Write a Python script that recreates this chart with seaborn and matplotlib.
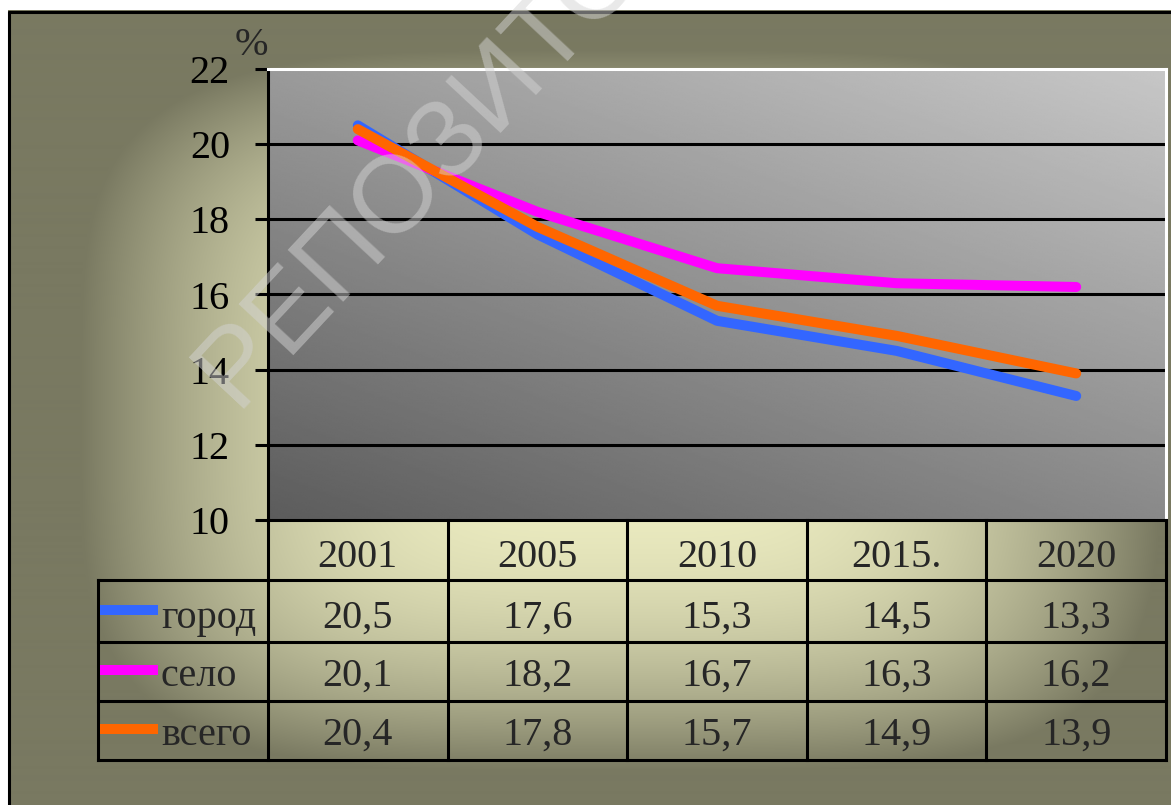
import numpy as np
import pandas as pd
import matplotlib
matplotlib.use('Agg')
import matplotlib.pyplot as plt
import seaborn as sns

# ============================================================
# DATA
# ============================================================

years = ['2001', '2005', '2010', '2015.', '2020']
gorod = [20.5, 17.6, 15.3, 14.5, 13.3]
selo = [20.1, 18.2, 16.7, 16.3, 16.2]
vsego = [20.4, 17.8, 15.7, 14.9, 13.9]
series_names = ['город', 'село', 'всего']
series_colors = ['#3366ff', '#ff00ff', '#ff6600']
y_ticks = [10, 12, 14, 16, 18, 20, 22]
watermark = 'РЕПОЗИТОРИЙ'

W, H = 1171, 805

sns.set_style('white')
plt.rcParams['font.family'] = ['Liberation Serif', 'DejaVu Serif']

fig = plt.figure(figsize=(W / 100, H / 100), dpi=100, facecolor='white')

# ============================================================
# CHART AREA BACKGROUND (olive "from center" gradient)
# ============================================================

bg = fig.add_axes([0, 0, 1, 1])
bg.set_axis_off()
yy, xx = np.mgrid[0:H, 0:W]
m = (np.abs((xx - 620) / 540) ** 4 + np.abs((yy - 410) / 360) ** 4) ** 0.25
f = 1 - np.clip(m, 0, 1) ** 2.5
dark = np.array([121, 121, 97]) / 255
light = np.array([240, 240, 196]) / 255
img = dark + f[..., None] * (light - dark)
img[:11, :, :] = 1
img[:, :8, :] = 1
bg.imshow(img, extent=(0, W, H, 0), aspect='auto', interpolation='bilinear')
bg.set_xlim(0, W)
bg.set_ylim(H, 0)
bg.plot([9, 9], [12, H], color='black', lw=2.2)
bg.plot([9, W], [12, 12], color='black', lw=2.2)

# ============================================================
# PLOT AREA
# ============================================================

ax = fig.add_axes([268 / W, 1 - 520 / H, (1166 - 268) / W, (520 - 69) / H])
ax.patch.set_alpha(0)

u = np.linspace(0, 1, 300)
w = np.linspace(1, 0, 300)
grad = 92 + 45 * u[None, :] + 62 * w[:, None]
ax.imshow(grad, cmap='gray', vmin=0, vmax=255, extent=(-0.5, 4.5, 10, 22),
          aspect='auto', zorder=-1, interpolation='bilinear')

for v in y_ticks[1:-1]:
    ax.axhline(v, color='black', lw=2.2, zorder=1)

df = pd.DataFrame({
    'pos': np.tile(np.arange(len(years)), len(series_names)),
    'value': gorod + selo + vsego,
    'series': np.repeat(series_names, len(years)),
})
sns.lineplot(data=df, x='pos', y='value', hue='series', hue_order=series_names,
             palette=series_colors, linewidth=7.2, legend=False, ax=ax,
             solid_capstyle='round', solid_joinstyle='round', zorder=3)

ax.set_xlim(-0.5, 4.5)
ax.set_ylim(10, 22)
ax.set_yticks(y_ticks)
ax.set_xticks([])
ax.set_xlabel('')
ax.set_ylabel('')
ax.tick_params(axis='y', left=True, length=9.4, width=2.2, pad=18,
               labelsize=29, direction='out', color='black', labelcolor='black')
for side in ['left', 'bottom']:
    ax.spines[side].set_color('black')
    ax.spines[side].set_linewidth(2.2)
for side in ['top', 'right']:
    ax.spines[side].set_color('white')
    ax.spines[side].set_linewidth(2.2)
ax.spines['bottom'].set_zorder(4)

ax.text(0, 1.031, '%', transform=ax.transAxes, ha='right', va='baseline', fontsize=29)

# ============================================================
# DATA TABLE WITH LEGEND KEYS
# ============================================================

x_left = (98 - 268) / 179.6 - 0.5
tab = fig.add_axes([98 / W, 1 - 760 / H, (1166 - 98) / W, (760 - 520) / H])
tab.set_axis_off()
tab.set_xlim(x_left, 4.5)
tab.set_ylim(760, 520)

row_edges = [520, 580, 642, 701, 760]
baselines = [567, 628, 686, 745]
key_y = [610, 670, 729]
lw_tab = 2.2

for ye in row_edges[1:]:
    tab.plot([x_left, 4.5], [ye, ye], color='black', lw=lw_tab, clip_on=False,
             solid_capstyle='projecting')
for xe in np.arange(len(years) + 1) - 0.5:
    tab.plot([xe, xe], [520, 760], color='black', lw=lw_tab, clip_on=False,
             solid_capstyle='projecting')
tab.plot([x_left, x_left], [580, 760], color='black', lw=lw_tab, clip_on=False,
         solid_capstyle='projecting')

for i, yr in enumerate(years):
    tab.text(i, baselines[0], yr, ha='center', va='baseline', fontsize=29)

key_x0 = (100 - 268) / 179.6 - 0.5
key_x1 = (158 - 268) / 179.6 - 0.5
label_x = (161 - 268) / 179.6 - 0.5
for k, (name, vals, col) in enumerate(zip(series_names, [gorod, selo, vsego], series_colors)):
    b = baselines[k + 1]
    tab.plot([key_x0, key_x1], [key_y[k], key_y[k]], color=col, lw=7.2,
             solid_capstyle='butt', clip_on=False)
    tab.text(label_x, b, name, ha='left', va='baseline', fontsize=29)
    for i, v in enumerate(vals):
        tab.text(i, b, f'{v:.1f}'.replace('.', ','), ha='center', va='baseline', fontsize=29)

# ============================================================
# WATERMARK
# ============================================================

fig.text(235 / W, 1 - 408 / H, watermark, rotation=47, rotation_mode='anchor',
         ha='left', va='baseline', fontsize=79, family='Liberation Sans',
         color='#d4d4d4', alpha=0.5, zorder=10)

fig.savefig('out.png', dpi=100)
plt.close(fig)
